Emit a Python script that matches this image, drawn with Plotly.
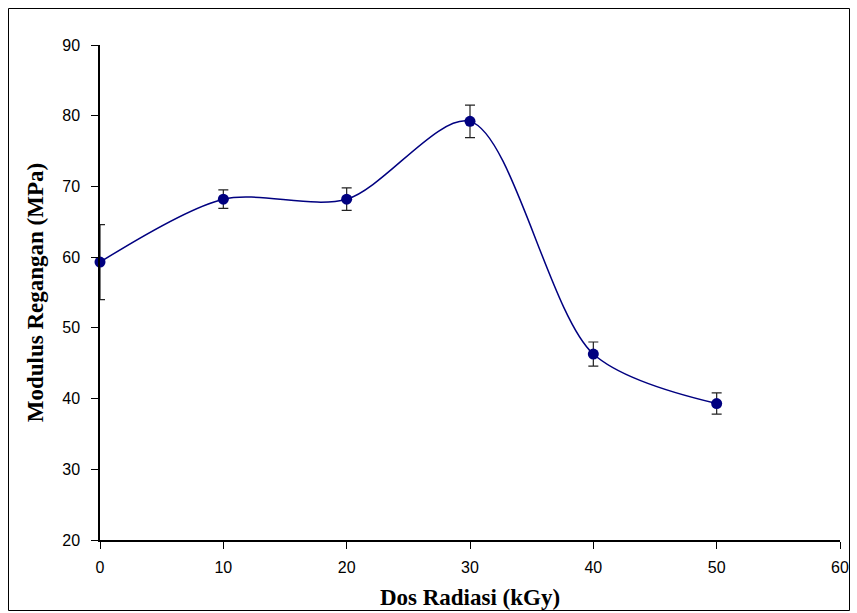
import plotly.graph_objects as go

dose = [0, 10, 20, 30, 40, 50]
modulus = [59.3, 68.2, 68.2, 79.2, 46.3, 39.3]
err = [5.3, 1.3, 1.6, 2.3, 1.7, 1.5]

x_ticks = [0, 10, 20, 30, 40, 50, 60]
y_ticks = [20, 30, 40, 50, 60, 70, 80, 90]

W, H = 857, 613
L, R, T, B = 100, 17, 45, 73
pw, ph = W - L - R, H - T - B

fig = go.Figure()
fig.add_trace(go.Scatter(
    x=dose, y=modulus, mode="lines+markers",
    line=dict(color="#000080", width=1.5, shape="spline", smoothing=0.85),
    marker=dict(color="#000080", size=11),
    error_y=dict(type="data", array=err, color="#222222", thickness=1.2, width=5),
    cliponaxis=False, showlegend=False,
))

fig.add_shape(type="rect", xref="paper", yref="paper",
              x0=(8.5 - L) / pw, x1=(849.5 - L) / pw,
              y0=-(610.5 - (H - B)) / ph, y1=1 + (T - 8.5) / ph,
              line=dict(color="black", width=1))

title_font = dict(family="Liberation Serif, Times New Roman", size=23)
fig.update_layout(
    width=W, height=H,
    margin=dict(l=L, r=R, t=T, b=B),
    plot_bgcolor="white", paper_bgcolor="white",
    font=dict(family="Liberation Sans, Arial", size=16, color="black"),
    xaxis=dict(range=[0, 60], tickvals=x_ticks, showgrid=False, zeroline=False,
               showline=True, linecolor="black", linewidth=1.5, automargin=False,
               ticks="outside", ticklen=7, tickcolor="black", ticklabelstandoff=5,
               title=dict(text="<b>Dos Radiasi (kGy)</b>", font=title_font, standoff=14)),
    yaxis=dict(range=[20, 90], tickvals=y_ticks, showgrid=False, zeroline=False,
               showline=True, linecolor="black", linewidth=1.5, automargin=False,
               ticks="outside", ticklen=7, tickcolor="black", ticklabelstandoff=8,
               title=dict(text="<b>Modulus Regangan (MPa)</b>", font=title_font, standoff=12)),
)

fig.write_html("out.html", config={"displayModeBar": False},
               post_script="document.body.style.margin='0px';document.body.style.overflow='hidden';")
